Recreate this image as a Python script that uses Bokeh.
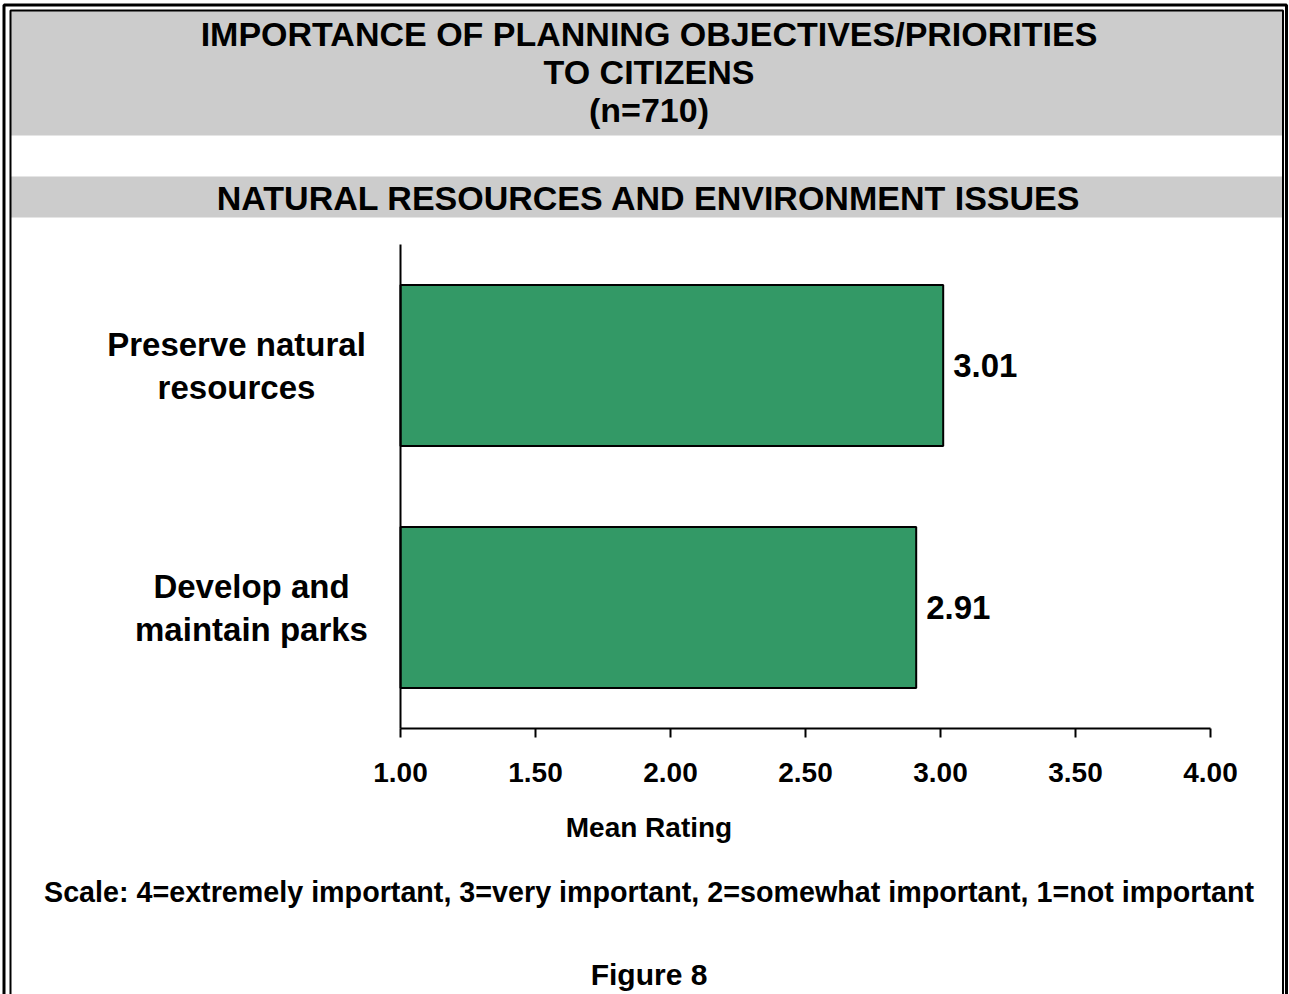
from bokeh.plotting import figure
from bokeh.models import (Range1d, ColumnDataSource, LabelSet, Label,
                          BoxAnnotation, FixedTicker, NumeralTickFormatter)
from bokeh.core.properties import value
from bokeh.embed import file_html
from bokeh.resources import INLINE

# ---------------- data ----------------
title_lines = ["IMPORTANCE OF PLANNING OBJECTIVES/PRIORITIES", "TO CITIZENS", "(n=710)"]
section_title = "NATURAL RESOURCES AND ENVIRONMENT ISSUES"
categories = ["Preserve natural resources", "Develop and maintain parks"]
category_line1 = ["Preserve natural", "Develop and"]
category_line2 = ["resources", "maintain parks"]
mean_ratings = [3.01, 2.91]
value_labels = ["3.01", "2.91"]
x_ticks = [1.0, 1.5, 2.0, 2.5, 3.0, 3.5, 4.0]
x_axis_label = "Mean Rating"
scale_note = "Scale: 4=extremely important, 3=very important, 2=somewhat important, 1=not important"
figure_caption = "Figure 8"

# ---------------- layout / style (pixels) ----------------
FONT = "Liberation Sans"
W, H = 1289, 994
FRAME_L, FRAME_T, FRAME_R, FRAME_B = 400, 244, 1210, 728   # plot area in canvas pixels
CENTER_X = 648.5
CAT_LABEL_CX = [236, 251]          # centre x of each category label block
LINE_SHIFT_PX = 21.5               # half the distance between the two label lines
GREEN = "#339966"
GRAY = "#cccccc"

n = len(categories)
cat_pos = [n - 1 - i for i in range(n)]          # first category on top
px_per_x = (FRAME_R - FRAME_L) / (x_ticks[-1] - x_ticks[0])
px_per_cat = (FRAME_B - FRAME_T) / n
x_start = x_ticks[0] - FRAME_L / px_per_x
x_end = x_ticks[-1] + (W - FRAME_R) / px_per_x
y_start = -0.5 - (H - FRAME_B) / px_per_cat
y_end = n - 0.5 + FRAME_T / px_per_cat
dy = LINE_SHIFT_PX / px_per_cat


def sy(py):
    """canvas y (from top) -> screen units (from bottom)"""
    return H - py


p = figure(width=W, height=H, output_backend="svg", toolbar_location=None,
           x_range=Range1d(x_start, x_end), y_range=Range1d(y_start, y_end),
           min_border=0, min_border_left=0, min_border_right=0,
           min_border_top=0, min_border_bottom=0)
p.outline_line_color = None
p.grid.visible = False
p.background_fill_color = "white"
p.border_fill_color = "white"


def box(left, right, top, bottom, **kw):
    return BoxAnnotation(left=left, right=right, top=sy(top), bottom=sy(bottom),
                         left_units="screen", right_units="screen",
                         top_units="screen", bottom_units="screen", level="underlay", **kw)


# ---- background bands and double frame ----
INNER_L, INNER_R, INNER_T = 10, 1282.5, 10
p.add_layout(box(INNER_L, INNER_R, INNER_T, 135, fill_color=GRAY, fill_alpha=1, line_color=None))
p.add_layout(box(INNER_L, INNER_R, 176, 217, fill_color=GRAY, fill_alpha=1, line_color=None))
p.add_layout(box(3.5, 1286, 4.5, H + 20, fill_color=None, fill_alpha=0,
                 line_color="black", line_alpha=1, line_width=3))
p.add_layout(box(INNER_L, INNER_R, INNER_T, H + 20, fill_color=None, fill_alpha=0,
                 line_color="black", line_alpha=1, line_width=2))

# ---- bars ----
src = ColumnDataSource(dict(pos=cat_pos, cat=categories, val=mean_ratings, lab=value_labels,
                            l1=category_line1, l2=category_line2,
                            y1=[v + dy for v in cat_pos], y2=[v - dy for v in cat_pos],
                            lx=CAT_LABEL_CX))
p.hbar(y="pos", left=x_ticks[0], right="val", height=0.665, source=src,
       fill_color=GREEN, line_color="black", line_width=2)

# value labels
p.add_layout(LabelSet(x="val", y="pos", text="lab", source=src, x_offset=10,
                      text_align="left", text_baseline="middle", text_font=value(FONT),
                      text_font_style="bold", text_font_size="33px", text_color="black"))
# category labels (two centred lines each)
for ycol, tcol in (("y1", "l1"), ("y2", "l2")):
    p.add_layout(LabelSet(x="lx", y=ycol, x_units="screen", text=tcol, source=src,
                          text_align="center", text_baseline="middle", text_font=value(FONT),
                          text_font_style="bold", text_font_size="33px", text_color="black"))

# ---- axes ----
xa = p.xaxis[0]
xa.fixed_location = -0.5
xa.bounds = (x_ticks[0], x_ticks[-1])
xa.ticker = FixedTicker(ticks=x_ticks)
xa.formatter = NumeralTickFormatter(format="0.00")
xa.axis_line_width = 2
xa.axis_line_color = "black"
xa.major_tick_line_width = 2
xa.major_tick_line_color = "black"
xa.major_tick_in = 0
xa.major_tick_out = 9
xa.minor_tick_line_color = None
xa.major_label_standoff = 25
xa.major_label_text_font = FONT
xa.major_label_text_font_style = "bold"
xa.major_label_text_font_size = "28px"
xa.major_label_text_color = "black"

ya = p.yaxis[0]
ya.fixed_location = x_ticks[0]
ya.bounds = (-0.5, n - 0.5)
ya.ticker = FixedTicker(ticks=[])
ya.axis_line_width = 2
ya.axis_line_color = "black"
ya.major_tick_line_color = None
ya.minor_tick_line_color = None
ya.major_label_text_color = None


# ---- texts ----
def add_text(txt, px, py, size):
    p.add_layout(Label(x=px, y=sy(py), x_units="screen", y_units="screen", text=txt,
                       text_align="center", text_baseline="middle", text_font=FONT,
                       text_font_style="bold", text_font_size=size, text_color="black"))


for txt, py in zip(title_lines, [33, 71, 109]):
    add_text(txt, CENTER_X, py, "34px")
add_text(section_title, CENTER_X, 197.5, "34px")
add_text(x_axis_label, CENTER_X, 827, "28px")
add_text(scale_note, CENTER_X, 891, "28.7px")
add_text(figure_caption, CENTER_X, 974, "30px")

open("out.html", "w").write(file_html(p, INLINE))
